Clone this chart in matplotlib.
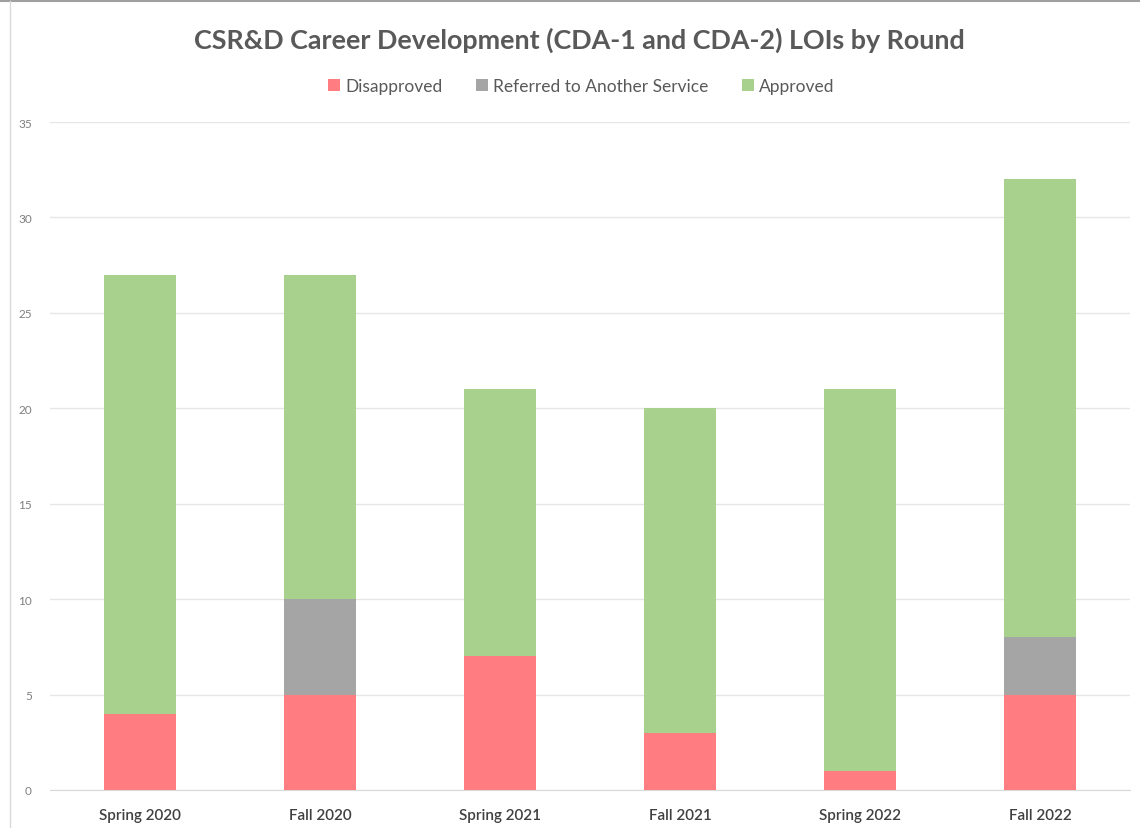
import matplotlib.pyplot as plt
from matplotlib.lines import Line2D
import numpy as np

rounds = ['Spring 2020', 'Fall 2020', 'Spring 2021', 'Fall 2021', 'Spring 2022', 'Fall 2022']
disapproved = [4, 5, 7, 3, 1, 5]
referred = [0, 5, 0, 0, 0, 3]
approved = [23, 17, 14, 17, 20, 24]
series_names = ['Disapproved', 'Referred to Another Service', 'Approved']
colors = ['#FF7C80', '#A5A5A5', '#A9D18E']

plt.rcParams['font.family'] = ['Lato', 'DejaVu Sans']

fig = plt.figure(figsize=(11.4, 8.29), dpi=100)
ax = fig.add_axes([50 / 1140, 1 - 791 / 829, 1080 / 1140, 668 / 829])

x = np.arange(len(rounds))
bottom = np.zeros(len(rounds))
for vals, name, c in zip([disapproved, referred, approved], series_names, colors):
    ax.bar(x, vals, width=0.4, bottom=bottom, color=c, label=name, zorder=3)
    bottom += np.array(vals)

ax.set_xlim(-0.5, len(rounds) - 0.5)
ax.set_ylim(0, 35)
ax.set_yticks(range(0, 36, 5))
ax.grid(axis='y', color='#E6E6E6', linewidth=1, zorder=0)
for s in ax.spines.values():
    s.set_visible(False)
ax.spines['bottom'].set_visible(True)
ax.spines['bottom'].set_color('#D9D9D9')
ax.tick_params(axis='both', length=0)
ax.tick_params(axis='y', labelsize=8.5, labelcolor='#7F7F7F', pad=13)
ax.set_xticks(x)
ax.set_xticklabels(rounds, fontsize=11, color='#404040', fontweight='semibold')
ax.tick_params(axis='x', pad=13)

fig.text(0.508, 1 - 40 / 829, 'CSR&D Career Development (CDA-1 and CDA-2) LOIs by Round',
         ha='center', va='center', fontsize=19.4, fontweight='bold', color='#595959')
fig.legend(loc='center', bbox_to_anchor=(0.51, 1 - 87 / 829), ncol=3, frameon=False,
           fontsize=12.5, labelcolor='#595959', handlelength=0.7, handleheight=0.7,
           handletextpad=0.3, columnspacing=1.9)

# chart frame lines
fig.add_artist(Line2D([0, 1], [1 - 2 / 829, 1 - 2 / 829], color='#A0A0A0', linewidth=1.5))
fig.add_artist(Line2D([10 / 1140, 10 / 1140], [0, 1 - 2 / 829], color='#D9D9D9', linewidth=1))

fig.savefig('out.png', dpi=100)
